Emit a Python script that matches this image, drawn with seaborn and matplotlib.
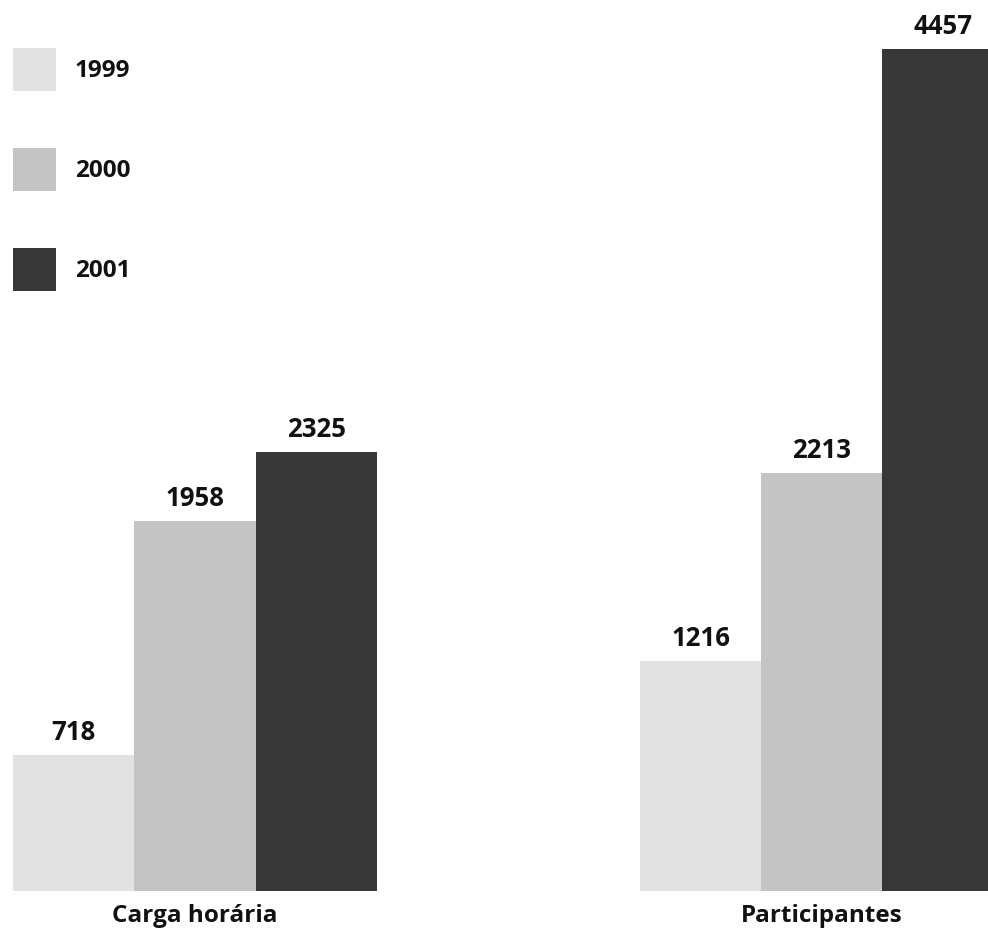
import matplotlib
matplotlib.use("Agg")
import matplotlib.pyplot as plt
import seaborn as sns
import pandas as pd

# Data
categorias = ["Carga horária", "Participantes"]
anos = ["1999", "2000", "2001"]
carga_horaria = [718, 1958, 2325]
participantes = [1216, 2213, 4457]
cores = ["#e2e2e2", "#c4c4c4", "#383838"]

df = pd.DataFrame({
    "categoria": [categorias[0]] * 3 + [categorias[1]] * 3,
    "ano": anos * 2,
    "valor": carga_horaria + participantes,
})

sns.set_theme(style="white")
plt.rcParams["font.family"] = ["Open Sans", "DejaVu Sans"]
plt.rcParams["font.weight"] = "bold"

W, H, DPI = 988, 935, 100
fig = plt.figure(figsize=(W / DPI, H / DPI), dpi=DPI)
base_px = 44          # space below the bars for category names
ax = fig.add_axes([0, base_px / H, 1, (H - base_px) / H])

sns.barplot(
    data=df, x="categoria", y="valor", hue="ano", order=categorias,
    hue_order=anos, palette=cores, width=0.58, gap=0, saturation=1,
    linewidth=0, ax=ax,
)

px_per_unit = 842 / 4457
ax.set_ylim(0, (H - base_px) / px_per_unit)
ax.set_xlim(-0.311, 1.265)

for cont in ax.containers:
    ax.bar_label(cont, fmt="%d", padding=6.5, fontsize=18.5,
                 fontweight="bold", color="#111111")

ax.set_xlabel("")
ax.set_ylabel("")
ax.set_yticks([])
ax.tick_params(axis="x", length=0, pad=9, labelsize=17.5, labelcolor="#111111")
for lab in ax.get_xticklabels():
    lab.set_fontweight("bold")
for s in ax.spines.values():
    s.set_visible(False)

sns.move_legend(
    ax, "upper left", bbox_to_anchor=(13 / W, 1 - 48 / H),
    bbox_transform=fig.transFigure, frameon=False, title=None,
    fontsize=17.5, handlelength=1.75, handleheight=2.35,
    handletextpad=0.8, labelspacing=2.35, borderpad=0, borderaxespad=0,
)
for t in ax.get_legend().get_texts():
    t.set_fontweight("bold")
    t.set_color("#111111")

fig.savefig("out.png", dpi=DPI)
